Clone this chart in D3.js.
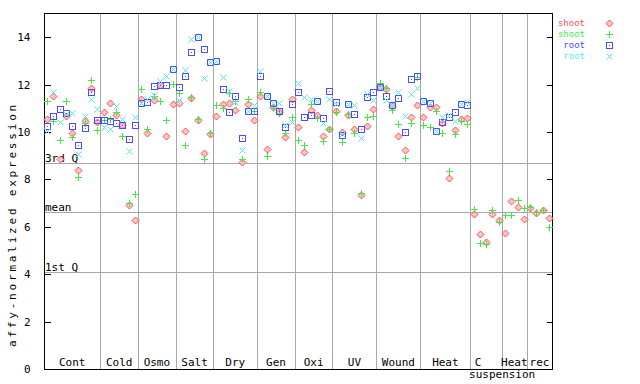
<!DOCTYPE html>
<html><head><meta charset="utf-8">
<script src="https://cdn.jsdelivr.net/npm/d3@7/dist/d3.min.js"></script>
<style>body{margin:0;background:#fff}svg{display:block}text{font-family:"DejaVu Sans Mono",monospace}</style>
</head><body>
<script>
// categories and number of samples in each
const categories = ["Cont","Cold","Osmo","Salt","Dry","Gen","Oxi","UV","Wound","Heat","C\nsuspension","Heat","rec"];
const sampleCounts = [9,6,6,6,7,6,6,7,7,8,5,4,4];
// series values per sample (null = no data)
const shootRep1 = [10.54,11.52,8.87,10.67,9.97,8.40,10.45,11.86,10.42, 10.83,11.21,10.70,10.28,6.92,6.27, 11.38,9.94,11.34,12.0,9.83,11.17, 11.21,10.03,11.43,10.50,9.12,9.90, 10.66,11.18,11.21,10.93,8.73,11.2,10.5, 11.52,9.27,11.04,10.85,9.79,11.39, 10.2,9.14,10.93,10.72,9.82,10.13, 10.88,10.0,10.72,10.13,7.36,10.27,10.96, 11.9,11.81,11.1,9.83,9.24,10.65,11.13, 10.65,11.04,11.04,10.37,8.06,10.07,10.54,10.58, 6.54,5.70,5.36,6.54,6.29, 5.74,7.09,6.84,6.33, 6.79,6.58,6.71,6.37];
const shootRep2 = [11.30,10.48,9.66,11.30,9.78,8.09,10.37,12.19,10.07, 10.51,10.55,10.83,9.82,7.02,7.37, 11.80,10.11,11.52,11.30,10.51,12.01, 11.63,9.44,11.46,10.53,8.84,9.94, 11.13,11.0,11.63,11.3,8.84,11.38,10.9, 11.69,8.98,11.0,10.81,9.94,10.62, 9.66,9.44,11.18,10.58,9.61,10.13, 10.86,9.58,10.76,9.94,7.43,10.62,10.66, 12.05,11.84,10.93,10.34,8.90,10.37,12.31, 10.28,10.20,10.87,9.94,8.35,9.90,10.45,10.32, 6.75,5.32,5.27,6.71,6.20, 6.50,6.50,7.13,6.79, 6.84,6.62,6.71,5.99];
const rootRep1 = [10.24,10.66,10.96,10.80,10.24,9.44,10.16,11.67,10.51, 10.49,10.45,10.37,10.28,9.69,10.28, 11.24,11.25,11.94,12.0,11.98,12.65, 11.88,12.35,13.36,14.0,13.49,12.97, 13.01,11.8,10.83,11.5,9.73,10.89,10.89, 12.35,11.52,11.24,10.87,10.2,11.17, 11.67,10.62,10.72,11.31,10.58,11.72, 11.28,9.86,11.18,10.76,10.11,11.46,11.69, 11.91,11.52,11.15,11.42,9.99,12.22,12.36, 11.31,11.24,10.04,10.41,10.62,10.83,11.18,11.14, null,null,null,null,null, null,null,null,null, null,null,null,null];
const rootRep2 = [10.06,11.69,10.41,10.78,10.80,9.07,10.67,11.38,10.96, 10.20,10.11,11.08,10.54,9.20,10.62, 11.24,11.38,11.55,12.14,12.38,12.65, 11.35,12.62,13.92,14.0,12.26,12.97, 13.01,12.31,11.72,11.25,9.24,10.89,11.15, 12.56,11.52,11.24,11.24,10.3,10.41, 12.05,11.46,11.38,11.31,10.38,11.41, 11.17,9.9,11.18,11.14,9.75,11.6,11.35, 11.91,11.35,11.15,11.69,10.67,11.6,11.84, 11.31,11.24,10.04,10.63,10.72,10.45,11.18,11.25, null,null,null,null,null, null,null,null,null, null,null,null,null];
const yTicks = [0,2,4,6,8,10,12,14];
const refNames = ["3rd Q","mean","1st Q"];
const refValues = [8.68,6.62,4.09];
const legendNames = ["shoot","shoot","root","root"];
const seriesColors = ["#ff4f4f","#44e844","#4a4aff","#50f0f0"];

const W=640,H=384, L=44, R=552, T=13.5, B=369;
const svg=d3.select("body").append("svg").attr("width",W).attr("height",H);
const total=d3.sum(sampleCounts);
const x=d3.scaleLinear().domain([0,total]).range([L,R]);
const y=d3.scaleLinear().domain([0,15]).range([B,T]);
const grey="#a8a8a8";
const fs="11px";

// boundaries
const cum=[0]; sampleCounts.forEach(c=>cum.push(cum[cum.length-1]+c));
const g=svg.append("g").attr("shape-rendering","crispEdges");
cum.slice(1,-1).forEach(v=>{
  g.append("line").attr("x1",Math.round(x(v))+0.5).attr("x2",Math.round(x(v))+0.5).attr("y1",T).attr("y2",B).attr("stroke",grey);
});
refValues.forEach((v,i)=>{
  const yy=Math.round(y(v))+0.5;
  g.append("line").attr("x1",L).attr("x2",R).attr("y1",yy).attr("y2",yy).attr("stroke",grey);
  svg.append("text").attr("x",L+1).attr("y",yy-2).style("font-size",fs).text(refNames[i]);
});

// frame and axes
const yAxisL=d3.axisLeft(y).tickValues(yTicks).tickSize(-6).tickPadding(14);
const yAxisR=d3.axisRight(y).tickValues(yTicks).tickSize(-6).tickFormat("");
const ga=svg.append("g").attr("transform",`translate(${L+0.5},0)`).call(yAxisL);
const gr=svg.append("g").attr("transform",`translate(${R+0.5},0)`).call(yAxisR);
[ga,gr].forEach(s=>{s.select(".domain").remove();s.selectAll("line").attr("stroke","#000").attr("shape-rendering","crispEdges");s.selectAll("text").attr("font-family","DejaVu Sans Mono").style("font-size",fs).attr("fill","#000");});
g.append("rect").attr("x",L+0.5).attr("y",T).attr("width",R-L).attr("height",B-T).attr("fill","none").attr("stroke","#000");

// y title
svg.append("text").attr("transform",`translate(16,${(102+347)/2}) rotate(-90)`).attr("text-anchor","middle").style("font-size",fs).attr("letter-spacing","2.8px").text("affy-normalized expression");

// category labels
categories.forEach((c,i)=>{
  const cx=x((cum[i]+cum[i+1])/2);
  const parts=c.split("\n");
  if(parts.length>1){
    svg.append("text").attr("x",cx-8).attr("y",366).attr("text-anchor","middle").style("font-size",fs).text(parts[0]);
    svg.append("text").attr("x",cx+16).attr("y",378).attr("text-anchor","middle").style("font-size",fs).text(parts[1]);
  } else {
    svg.append("text").attr("x",cx).attr("y",366).attr("text-anchor","middle").style("font-size",fs).text(c);
  }
});

// markers
function marker(sel,type,cx,cy,col){
  cx=Math.round(cx)+0.5; cy=Math.round(cy)+0.5;
  if(type===0){
    sel.append("path").attr("d",`M${cx},${cy-3.5}L${cx+3.5},${cy}L${cx},${cy+3.5}L${cx-3.5},${cy}Z`).attr("fill","#ffc4c4").attr("stroke",col);
  } else if(type===1){
    sel.append("path").attr("d",`M${cx-3.5},${cy}H${cx+3.5}M${cx},${cy-3.5}V${cy+3.5}`).attr("stroke",col).attr("shape-rendering","crispEdges");
  } else if(type===2){
    sel.append("rect").attr("x",cx-3).attr("y",cy-3).attr("width",6).attr("height",6).attr("fill","none").attr("stroke",col).attr("shape-rendering","crispEdges");
    sel.append("rect").attr("x",cx-0.5).attr("y",cy-0.5).attr("width",1).attr("height",1).attr("fill",col);
  } else {
    sel.append("path").attr("d",`M${cx-3},${cy-3}L${cx+3},${cy+3}M${cx-3},${cy+3}L${cx+3},${cy-3}`).attr("stroke",col);
  }
}
const series=[shootRep1,shootRep2,rootRep1,rootRep2];
const mg=svg.append("g");
series.forEach((arr,s)=>{
  arr.forEach((v,i)=>{ if(v!=null) marker(mg,s,x(i+0.5),y(v),seriesColors[s]); });
});

// legend
legendNames.forEach((n,i)=>{
  svg.append("text").attr("x",585).attr("y",26+i*11).attr("text-anchor","end").style("font-size","9px").attr("fill",seriesColors[i]).text(n);
  marker(svg,i,609,23+i*11,seriesColors[i]);
});
</script>
</body></html>
